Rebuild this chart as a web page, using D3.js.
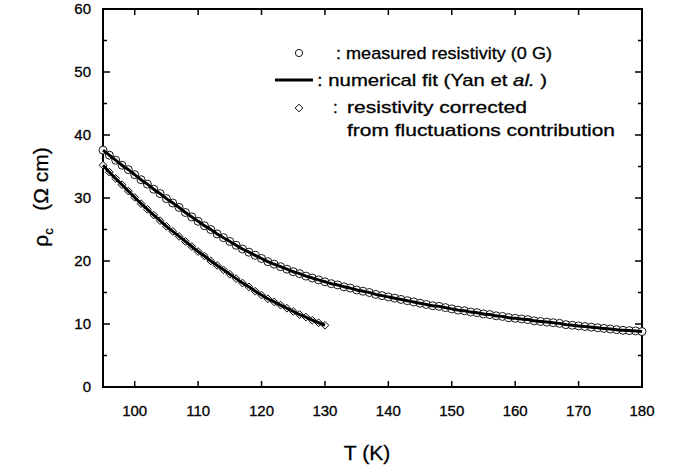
<!DOCTYPE html>
<html>
<head>
<meta charset="utf-8">
<script src="https://cdn.jsdelivr.net/npm/d3@7"></script>
<style>
  body { margin: 0; background: #fff; }
  svg { display: block; font-family: "Liberation Sans", Arial, Helvetica, sans-serif; }
  text { fill: #000; stroke: #000; stroke-width: 0.3px; }
</style>
</head>
<body>
<svg id="chart" width="673" height="468"></svg>
<script>
// measured resistivity (0 G), every 1 K
const measuredT = d3.range(95, 181);
const measuredRho = [
  37.6, 36.8, 36.0, 35.2, 34.5, 33.7, 32.9, 32.2, 31.4, 30.7,
  29.9, 29.2, 28.5, 27.7, 27.0, 26.3, 25.6, 25.0, 24.3, 23.7,
  23.1, 22.5, 21.9, 21.4, 20.9, 20.4, 19.9, 19.5, 19.1, 18.7,
  18.3, 18.0, 17.6, 17.3, 17.0, 16.7, 16.4, 16.2, 15.9, 15.7,
  15.4, 15.2, 15.0, 14.7, 14.5, 14.3, 14.1, 13.9, 13.7, 13.5,
  13.3, 13.1, 12.9, 12.8, 12.6, 12.4, 12.2, 12.1, 11.9, 11.8,
  11.6, 11.5, 11.3, 11.2, 11.0, 10.9, 10.8, 10.7, 10.5, 10.4,
  10.3, 10.2, 10.1, 9.9, 9.8, 9.7, 9.6, 9.5, 9.4, 9.3,
  9.2, 9.1, 9.0, 8.95, 8.9, 8.8
];

// resistivity corrected from fluctuations contribution
const correctedT = d3.range(95, 131);
const correctedRho = [
  35.2, 34.1, 33.1, 32.1, 31.1, 30.1, 29.1, 28.2, 27.3, 26.4,
  25.5, 24.7, 23.9, 23.1, 22.3, 21.5, 20.8, 20.0, 19.3, 18.6,
  17.9, 17.2, 16.5, 15.9, 15.2, 14.6, 14.0, 13.5, 13.0, 12.5,
  12.0, 11.5, 11.1, 10.6, 10.2, 9.8
];

const xTicks = [100, 110, 120, 130, 140, 150, 160, 170, 180];
const yTicks = [0, 10, 20, 30, 40, 50, 60];
const yMinorTicks = [5, 15, 25, 35, 45, 55];

const svg = d3.select("#chart");
const pl = 103, pr = 642, pt = 9, pb = 387;

const x = d3.scaleLinear().domain([95, 180]).range([pl, pr]);
const y = d3.scaleLinear().domain([0, 60]).range([pb, pt]);

const measured = measuredT.map((t, i) => ({ t: t, r: measuredRho[i] }));
const corrected = correctedT.map((t, i) => ({ t: t, r: correctedRho[i] }));

// ticks, all pointing inwards
const ax = svg.append("g").attr("stroke", "#000").attr("stroke-width", 1.5);
xTicks.forEach(t => {
  ax.append("line").attr("x1", x(t)).attr("x2", x(t)).attr("y1", pb).attr("y2", pb - 6);
  ax.append("line").attr("x1", x(t)).attr("x2", x(t)).attr("y1", pt).attr("y2", pt + 6);
});
yTicks.forEach(v => {
  ax.append("line").attr("x1", pl).attr("x2", pl + 7).attr("y1", y(v)).attr("y2", y(v));
  ax.append("line").attr("x1", pr).attr("x2", pr - 7).attr("y1", y(v)).attr("y2", y(v));
});
yMinorTicks.forEach(v => {
  ax.append("line").attr("x1", pl).attr("x2", pl + 4).attr("y1", y(v)).attr("y2", y(v));
  ax.append("line").attr("x1", pr).attr("x2", pr - 4).attr("y1", y(v)).attr("y2", y(v));
});

svg.append("rect")
  .attr("x", pl).attr("y", pt)
  .attr("width", pr - pl).attr("height", pb - pt)
  .attr("fill", "none").attr("stroke", "#000").attr("stroke-width", 2);

// tick labels
svg.selectAll(".xlab")
  .data(xTicks)
  .join("text")
  .attr("x", d => x(d))
  .attr("y", 416)
  .attr("text-anchor", "middle")
  .style("font-size", "15px")
  .text(d => d);

svg.selectAll(".ylab")
  .data(yTicks)
  .join("text")
  .attr("x", 91)
  .attr("y", d => y(d) + 5)
  .attr("text-anchor", "end")
  .style("font-size", "15px")
  .text(d => d);

// axis titles
svg.append("text")
  .attr("x", 367)
  .attr("y", 460)
  .attr("text-anchor", "middle")
  .style("font-size", "21px")
  .text("T (K)");

const yt = svg.append("text")
  .attr("transform", "translate(48,197) rotate(-90)")
  .attr("text-anchor", "middle")
  .style("font-size", "21px");
yt.append("tspan").text("ρ");
yt.append("tspan").attr("dy", 5).style("font-size", "13px").text("c");
yt.append("tspan").attr("dy", -5).text("\u00a0\u00a0\u00a0(Ω cm)");

// markers
const circles = svg.append("g");
circles.selectAll("circle")
  .data(measured)
  .join("circle")
  .attr("cx", d => x(d.t))
  .attr("cy", d => y(d.r))
  .attr("r", 4)
  .attr("fill", "#fff")
  .attr("stroke", "#000")
  .attr("stroke-width", 0.9);

const diamond = d3.symbol().type(d3.symbolSquare).size(30);
svg.append("g").selectAll("path")
  .data(corrected)
  .join("path")
  .attr("transform", d => `translate(${x(d.t)},${y(d.r)}) rotate(45)`)
  .attr("d", diamond)
  .attr("fill", "#fff")
  .attr("stroke", "#000")
  .attr("stroke-width", 0.9);

// fit lines
const line = d3.line().x(d => x(d.t)).y(d => y(d.r)).curve(d3.curveMonotoneX);
[measured, corrected].forEach(s => {
  svg.append("path")
    .attr("d", line(s))
    .attr("fill", "none")
    .attr("stroke", "#000")
    .attr("stroke-width", 3);
});

// legend
const lg = svg.append("g").style("font-size", "17px");
lg.append("circle").attr("cx", 299).attr("cy", 53).attr("r", 3.6)
  .attr("fill", "#fff").attr("stroke", "#000").attr("stroke-width", 0.9);
lg.append("text").attr("x", 336).attr("y", 59)
  .attr("textLength", 216).attr("lengthAdjust", "spacingAndGlyphs")
  .text(": measured resistivity (0 G)");

lg.append("line").attr("x1", 275).attr("x2", 313).attr("y1", 80).attr("y2", 80)
  .attr("stroke", "#000").attr("stroke-width", 3);
const fit = lg.append("text").attr("x", 317).attr("y", 86);
fit.append("tspan").text(": numerical fit (Yan et ");
fit.append("tspan").style("font-style", "italic").text("al.");
fit.append("tspan").text(" )");
fit.attr("textLength", 230).attr("lengthAdjust", "spacingAndGlyphs");

lg.append("path").attr("transform", "translate(299,108) rotate(45)")
  .attr("d", diamond).attr("fill", "#fff").attr("stroke", "#000").attr("stroke-width", 0.9);
lg.append("text").attr("x", 333).attr("y", 113).text(":");
lg.append("text").attr("x", 347).attr("y", 113)
  .attr("textLength", 180).attr("lengthAdjust", "spacingAndGlyphs")
  .text("resistivity corrected");
lg.append("text").attr("x", 347).attr("y", 136)
  .attr("textLength", 268).attr("lengthAdjust", "spacingAndGlyphs")
  .text("from fluctuations contribution");
</script>
</body>
</html>
